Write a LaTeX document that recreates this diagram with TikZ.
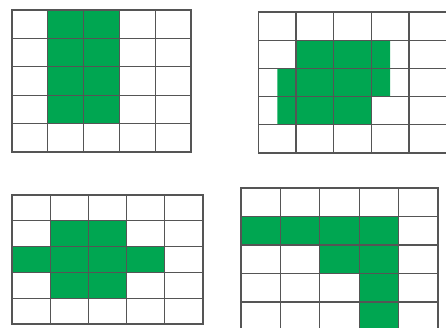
\documentclass[tikz,border=0pt]{standalone}
\definecolor{gfill}{RGB}{0,166,81}
\definecolor{gline}{RGB}{85,85,85}
\tikzset{
  cellfill/.style={fill=gfill, draw=none},
  gridline/.style={draw=gline, line width=1pt, line cap=rect},
}
\newcommand{\mygridlines}{%
  \foreach \i in {0,...,5} {\draw[gridline] (\i,0) -- (\i,5);}
  \foreach \j in {0,...,5} {\draw[gridline] (0,\j) -- (5,\j);}
}
\begin{document}
\begin{tikzpicture}[x=0.75pt,y=-0.75pt]
\useasboundingbox (0,0) rectangle (446,328);
\clip (0,0) rectangle (446,328);
% grid 1
\begin{scope}[xshift=9pt, yshift=-7.5pt, x=26.85pt, y=-21.3pt]
  \fill[cellfill] (1,0) rectangle (3,4);
  \mygridlines
\end{scope}
% grid 2
\begin{scope}[xshift=193.9pt, yshift=-9pt, x=28.2pt, y=-21.15pt]
  \fill[cellfill] (1,1) -- (3.5,1) -- (3.5,3) -- (3,3) -- (3,4) -- (0.5,4) -- (0.5,2) -- (1,2) -- cycle;
  \mygridlines
\end{scope}
% grid 3
\begin{scope}[xshift=9pt, yshift=-146.25pt, x=28.65pt, y=-19.35pt]
  \fill[cellfill] (1,1) -- (3,1) -- (3,2) -- (4,2) -- (4,3) -- (3,3) -- (3,4) -- (1,4) -- (1,3) -- (0,3) -- (0,2) -- (1,2) -- cycle;
  \mygridlines
\end{scope}
% grid 4
\begin{scope}[xshift=180.75pt, yshift=-141pt, x=29.55pt, y=-21.4pt]
  \fill[cellfill] (0,1) -- (4,1) -- (4,5) -- (3,5) -- (3,3) -- (2,3) -- (2,2) -- (0,2) -- cycle;
  \mygridlines
\end{scope}
\end{tikzpicture}
\end{document}
